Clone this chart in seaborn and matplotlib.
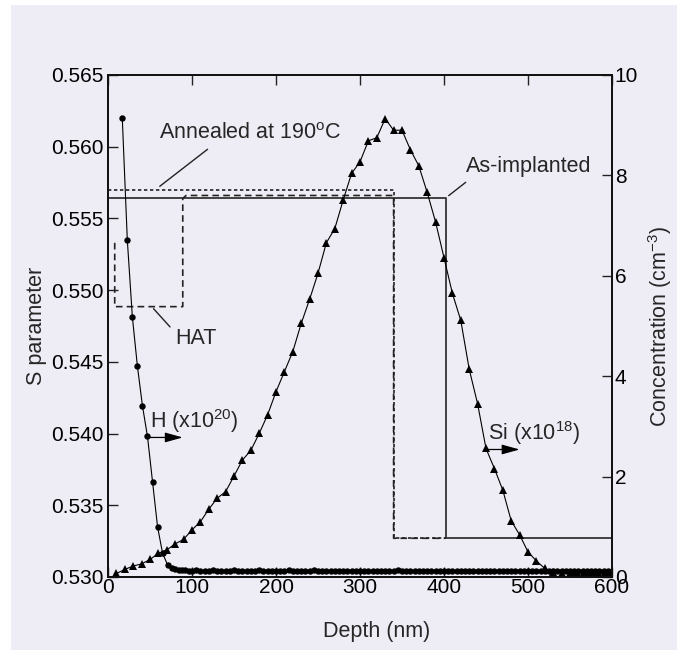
import numpy as np
import pandas as pd
import seaborn as sns
import matplotlib.pyplot as plt
from matplotlib.patches import Rectangle

# =========================
# DATA
# =========================
# H profile (right axis, x10^20)
h_depth = [17, 23, 29, 35, 41, 47, 53, 59, 65, 71, 76,
           80, 84, 88, 92, 96, 100, 105, 110, 115, 120, 125, 130, 135, 140, 145,
           150, 155, 160, 165, 170, 175, 180, 185, 190, 195, 200, 205, 210, 215, 220,
           225, 230, 235, 240, 245, 250, 255, 260, 265, 270, 275, 280, 285, 290, 295,
           300, 305, 310, 315, 320, 325, 330, 335, 340, 345, 350, 355, 360, 365, 370,
           375, 380, 385, 390, 395, 400, 405, 410, 415, 420, 425, 430, 435, 440, 445,
           450, 455, 460, 465, 470, 475, 480, 485, 490, 495, 500, 505, 510, 515, 520,
           525, 530, 535, 540, 545, 550, 555, 560, 565, 570, 575, 580, 585, 590, 595, 600]
h_conc = [9.14, 6.71, 5.18, 4.20, 3.41, 2.80, 1.90, 1.00, 0.47, 0.24, 0.17,
          0.15, 0.14, 0.13, 0.13, 0.12, 0.12, 0.13, 0.12, 0.12, 0.12, 0.13, 0.12, 0.12, 0.12, 0.12,
          0.13, 0.12, 0.12, 0.12, 0.12, 0.12, 0.13, 0.12, 0.12, 0.12, 0.12, 0.12, 0.12, 0.13, 0.12,
          0.12, 0.12, 0.12, 0.12, 0.13, 0.12, 0.12, 0.12, 0.12, 0.12, 0.12, 0.12, 0.12, 0.12, 0.12,
          0.12, 0.12, 0.12, 0.12, 0.12, 0.12, 0.12, 0.12, 0.12, 0.13, 0.12, 0.12, 0.12, 0.12, 0.12,
          0.12, 0.12, 0.12, 0.12, 0.12, 0.12, 0.12, 0.12, 0.12, 0.12, 0.12, 0.12, 0.12, 0.12, 0.12,
          0.12, 0.12, 0.12, 0.12, 0.12, 0.12, 0.12, 0.12, 0.12, 0.11, 0.11, 0.11, 0.11, 0.11, 0.11,
          0.11, 0.11, 0.11, 0.11, 0.11, 0.11, 0.11, 0.11, 0.11, 0.11, 0.11, 0.11, 0.11, 0.11, 0.11, 0.11]

# Si profile (right axis, x10^18)
si_depth = [10, 20, 30, 40, 50, 60, 70, 80, 90, 100, 110, 120, 130, 140, 150, 160, 170,
            180, 190, 200, 210, 220, 230, 240, 250, 260, 270, 280, 290, 300, 310, 320,
            330, 340, 350, 360, 370, 380, 390, 400, 410, 420, 430, 440, 450, 460, 470,
            480, 490, 500, 510, 520, 530, 540, 550, 555, 560, 565, 570, 575, 580, 585,
            590, 595, 600]
si_conc = [0.07, 0.15, 0.22, 0.26, 0.35, 0.47, 0.54, 0.66, 0.75, 0.94, 1.10, 1.35, 1.57,
           1.70, 2.01, 2.33, 2.52, 2.86, 3.23, 3.69, 4.09, 4.49, 5.05, 5.53, 6.05, 6.66,
           6.94, 7.51, 8.04, 8.27, 8.69, 8.75, 9.13, 8.90, 8.90, 8.51, 8.19, 7.66, 7.07,
           6.36, 5.65, 5.11, 4.14, 3.45, 2.56, 2.16, 1.73, 1.12, 0.84, 0.50, 0.32, 0.17,
           0.10, 0.08, 0.07, 0.07, 0.06, 0.06, 0.06, 0.06, 0.06, 0.06, 0.06, 0.06, 0.06]

# S parameter layer models (left axis)
asimp_depth = [0, 402, 402, 600]
asimp_s = [0.5564, 0.5564, 0.5327, 0.5327]
anneal_depth = [0, 340, 340, 402]
anneal_s = [0.5570, 0.5570, 0.5327, 0.5327]
hat_depth = [8, 8, 89, 89, 93, 340, 340, 402]
hat_s = [0.5533, 0.54885, 0.54885, 0.5564, 0.5566, 0.5566, 0.5327, 0.5327]

h_df = pd.DataFrame({"depth": h_depth, "conc": h_conc})
si_df = pd.DataFrame({"depth": si_depth, "conc": si_conc})

# =========================
# STYLE
# =========================
bg = "#eeedf5"
sns.set_theme(style="ticks")
plt.rcParams["font.family"] = ["Liberation Sans", "DejaVu Sans"]
plt.rcParams["mathtext.default"] = "regular"
fs_tick = 15
fs = 15.5

fig = plt.figure(figsize=(6.8, 6.52), dpi=100, facecolor="white")
fig.patches.append(Rectangle((11 / 680, 2 / 652), 666 / 680, 645 / 652,
                             transform=fig.transFigure, facecolor=bg,
                             edgecolor="none", zorder=-10))
ax = fig.add_axes([108 / 680, 1 - 577 / 652, 504 / 680, 502 / 652])
ax.set_facecolor(bg)
ax2 = ax.twinx()

# --- layer model step lines ---
ax.plot(asimp_depth, asimp_s, color="#333333", lw=1.3, ls="-")
ax.plot(anneal_depth, anneal_s, color="#222222", lw=1.2, ls=(0, (2, 1.6)))
ax.plot(hat_depth, hat_s, color="#222222", lw=1.2, ls=(0, (4, 2.5)))

# --- implantation profiles ---
sns.lineplot(data=h_df, x="depth", y="conc", ax=ax2, color="black", lw=0.8,
             marker="o", markersize=4.6, markeredgewidth=0, sort=False)
sns.lineplot(data=si_df, x="depth", y="conc", ax=ax2, color="black", lw=0.8,
             marker="^", markersize=5.6, markeredgewidth=0, sort=False)

# --- axes ---
ax.set_xlim(0, 600)
ax.set_ylim(0.530, 0.565)
ax2.set_ylim(0, 10)
ax.set_xticks([0, 100, 200, 300, 400, 500, 600])
ax.set_yticks([0.530, 0.535, 0.540, 0.545, 0.550, 0.555, 0.560, 0.565])
ax.set_yticklabels(["0.530", "0.535", "0.540", "0.545", "0.550", "0.555", "0.560", "0.565"])
ax2.set_yticks([0, 2, 4, 6, 8, 10])

ax.tick_params(axis="both", direction="in", length=7, width=1, labelsize=fs_tick,
               colors="#222222", labelcolor="black", top=True, pad=3)
ax.tick_params(axis="x", pad=1)
ax2.tick_params(axis="y", direction="in", length=7, width=1, labelsize=fs_tick,
                colors="#222222", labelcolor="black", pad=2)
for a in (ax, ax2):
    for sp in a.spines.values():
        sp.set_linewidth(1.3)
        sp.set_color("#111111")

ax.set_xlabel("Depth (nm)", fontsize=fs)
ax.set_ylabel("S parameter", fontsize=fs)
ax2.set_ylabel("Concentration (cm$^{-3}$)", fontsize=fs)
ax.xaxis.set_label_coords(0.533, -0.088)
ax.yaxis.set_label_coords(-0.122, 0.5)
ax2.yaxis.set_label_coords(1.068, 0.5)

# --- annotations ---
line_kw = dict(arrowstyle="-", color="#222222", lw=1.0)
ax.annotate("Annealed at 190$^{o}$C", xy=(59, 0.55712), xytext=(61, 0.5609),
            fontsize=fs, va="center", ha="left",
            arrowprops=dict(**line_kw, relpos=(0.3, 0.0)))
ax.annotate("As-implanted", xy=(403, 0.55647), xytext=(426, 0.5586),
            fontsize=fs, va="center", ha="left",
            arrowprops=dict(**line_kw, relpos=(0.05, 0.0)))
ax.annotate("HAT", xy=(52, 0.54885), xytext=(80, 0.5466),
            fontsize=fs, va="center", ha="left",
            arrowprops=dict(**line_kw, relpos=(0.0, 0.8)))

arrow_kw = dict(arrowstyle="-|>,head_length=0.9,head_width=0.25",
                color="black", lw=0.9, shrinkA=0, shrinkB=0)
ax2.text(50, 3.1, "H (x10$^{20}$)", fontsize=fs, va="center", ha="left")
ax2.annotate("", xy=(89, 2.78), xytext=(46, 2.78), arrowprops=arrow_kw)
ax2.text(452, 2.87, "Si (x10$^{18}$)", fontsize=fs, va="center", ha="left")
ax2.annotate("", xy=(490, 2.54), xytext=(450, 2.54), arrowprops=arrow_kw)

plt.savefig("out.png", dpi=100, facecolor=fig.get_facecolor())
plt.close()
